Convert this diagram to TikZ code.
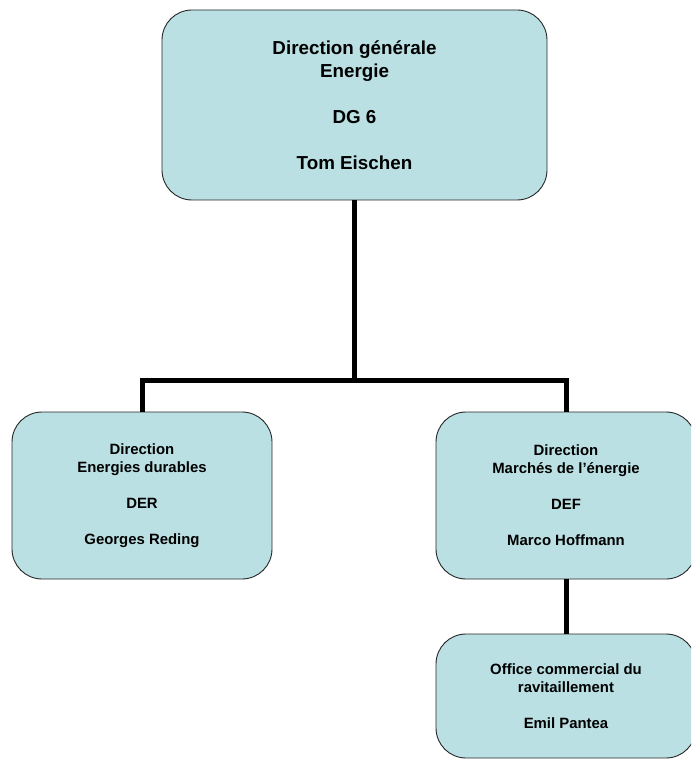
\documentclass[tikz,border=0pt]{standalone}
\usepackage{fontspec}
\setmainfont{Liberation Sans}
\definecolor{boxblue}{RGB}{186,224,227}
\begin{document}
\begin{tikzpicture}[x=1pt, y=-1pt,
    unit/.style={draw=black!85, line width=0.9pt, fill=boxblue, rounded corners=30pt, align=center, font=\bfseries, inner sep=0pt},
    conn/.style={line width=5pt, line join=miter}]
        \useasboundingbox (0,0) rectangle (691,759);
        \clip (0,0) rectangle (691,759);
        \coordinate (c1) at (354.5,105);
        \coordinate (c2) at (142,495.5);
        \coordinate (c3) at (566,495.5);
        \coordinate (c4) at (566,696);
        \coordinate (hm) at (354,380);
        \node[unit, minimum width=385pt, minimum height=190pt, font=\bfseries\fontsize{18.8}{23}\selectfont] (dg) at (c1) {Direction générale\\Energie\\[23pt]DG 6\\[23pt]Tom Eischen};
        \node[unit, minimum width=260pt, minimum height=167pt, font=\bfseries\fontsize{14.9}{18}\selectfont] (der) at (c2) {Direction\\Energies durables\\[18pt]DER\\[18pt]Georges Reding};
        \node[unit, minimum width=260pt, minimum height=167pt, font=\bfseries\fontsize{14.9}{18}\selectfont] (def) at (c3) {Direction\\Marchés de l’énergie\\[18pt]DEF\\[18pt]Marco Hoffmann};
        \node[unit, minimum width=260pt, minimum height=124pt, font=\bfseries\fontsize{14.9}{18}\selectfont] (ofc) at (c4) {Office commercial du\\ravitaillement\\[18pt]Emil Pantea};
        \draw[conn] (dg.south) -- (dg.south |- hm);
        \draw[conn] (der.north) |- (hm) -| (def.north);
        \draw[conn] (def.south) -- (ofc.north);
    \end{tikzpicture}
\end{document}
